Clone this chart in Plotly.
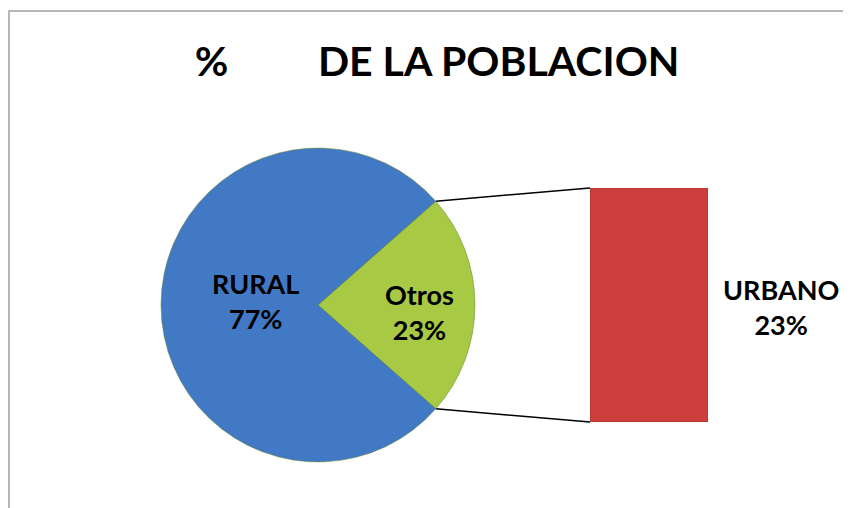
import math
import plotly.graph_objects as go

W, H = 851, 508
OFF = 8  # page body margin shifts the figure by 8px

pie_labels = ["Otros", "RURAL"]
pie_values = [23, 77]
bar_labels = ["URBANO"]
bar_values = [23]
title_text = "%\u00a0\u00a0\u00a0\u00a0\u00a0\u00a0\u00a0\u00a0\u00a0DE LA POBLACION"

blue = "#4279C4"
green = "#A8C943"
red = "#CC3F3D"
font = "Lato"

# geometry in screen pixels, converted to paper coords
cx, cy, r = 318 - OFF, 305 - OFF, 157
bar_x0, bar_x1, bar_y0, bar_y1 = 590 - OFF, 708 - OFF, 188 - OFF, 422 - OFF


def px(x):
    return x / W


def py(y):
    return 1 - y / H


half = pie_values[0] / sum(pie_values) * 180
rot = 90 - half

fig = go.Figure()

fig.add_trace(go.Pie(
    labels=pie_labels, values=pie_values, sort=False, direction="clockwise",
    rotation=rot,
    marker=dict(colors=[green, blue], line=dict(color="#5E7F2A", width=0.5)),
    textinfo="none",
    domain=dict(x=[px(cx - r), px(cx + r)], y=[py(cy + r), py(cy - r)]),
    showlegend=False, hoverinfo="label+percent",
))

fig.add_trace(go.Bar(
    x=bar_labels, y=bar_values, width=1,
    marker=dict(color=red, line=dict(color="#A83330", width=1)),
    xaxis="x", yaxis="y", showlegend=False,
))

# connector lines from the pie slice edge to the bar corners
a = math.radians(half)
ex = cx + r * math.cos(a)
fig.add_trace(go.Scatter(
    x=[ex, bar_x0, None, ex, bar_x0],
    y=[cy - r * math.sin(a), bar_y0, None, cy + r * math.sin(a), bar_y1],
    mode="lines", line=dict(color="black", width=1.5),
    xaxis="x2", yaxis="y2", showlegend=False, hoverinfo="skip",
))

# data labels
total = sum(pie_values)
label_pos = {"RURAL": (255, 301), "Otros": (419, 312)}
for lab, val in zip(pie_labels, pie_values):
    x, y = label_pos[lab]
    fig.add_annotation(
        x=px(x - OFF), y=py(y - OFF), xref="paper", yref="paper", xanchor="center", yanchor="middle",
        text=f"<b>{lab}<br>{round(val / total * 100)}%</b>", showarrow=False,
        font=dict(family=font, size=27, color="black"),
    )

fig.add_annotation(
    x=px(781 - OFF), y=py(307 - OFF), xref="paper", yref="paper", xanchor="center", yanchor="middle",
    text=f"<b>{bar_labels[0]}<br>{bar_values[0]}%</b>", showarrow=False,
    font=dict(family=font, size=27, color="black"),
)

fig.update_layout(
    width=W, height=H,
    margin=dict(l=0, r=0, t=0, b=0),
    paper_bgcolor="white", plot_bgcolor="rgba(0,0,0,0)",
    title=dict(text=f"<b>{title_text}</b>", x=px(437 - OFF), xanchor="center", y=py(62 - OFF), yanchor="middle",
               font=dict(family=font, size=41, color="black")),
    xaxis=dict(domain=[px(bar_x0), px(bar_x1)], range=[-0.5, 0.5], visible=False, fixedrange=True),
    yaxis=dict(domain=[py(bar_y1), py(bar_y0)], range=[0, bar_values[0]], visible=False, fixedrange=True),
    xaxis2=dict(domain=[0, 1], range=[0, W], visible=False, anchor="y2"),
    yaxis2=dict(domain=[0, 1], range=[H, 0], visible=False, anchor="x2"),
    shapes=[dict(type="rect", xref="paper", yref="paper", x0=px(1), x1=1.2, y0=-0.2, y1=py(11 - OFF),
                 line=dict(color="#A0A0A0", width=1.5))],
)

fig.write_html("out.html")
